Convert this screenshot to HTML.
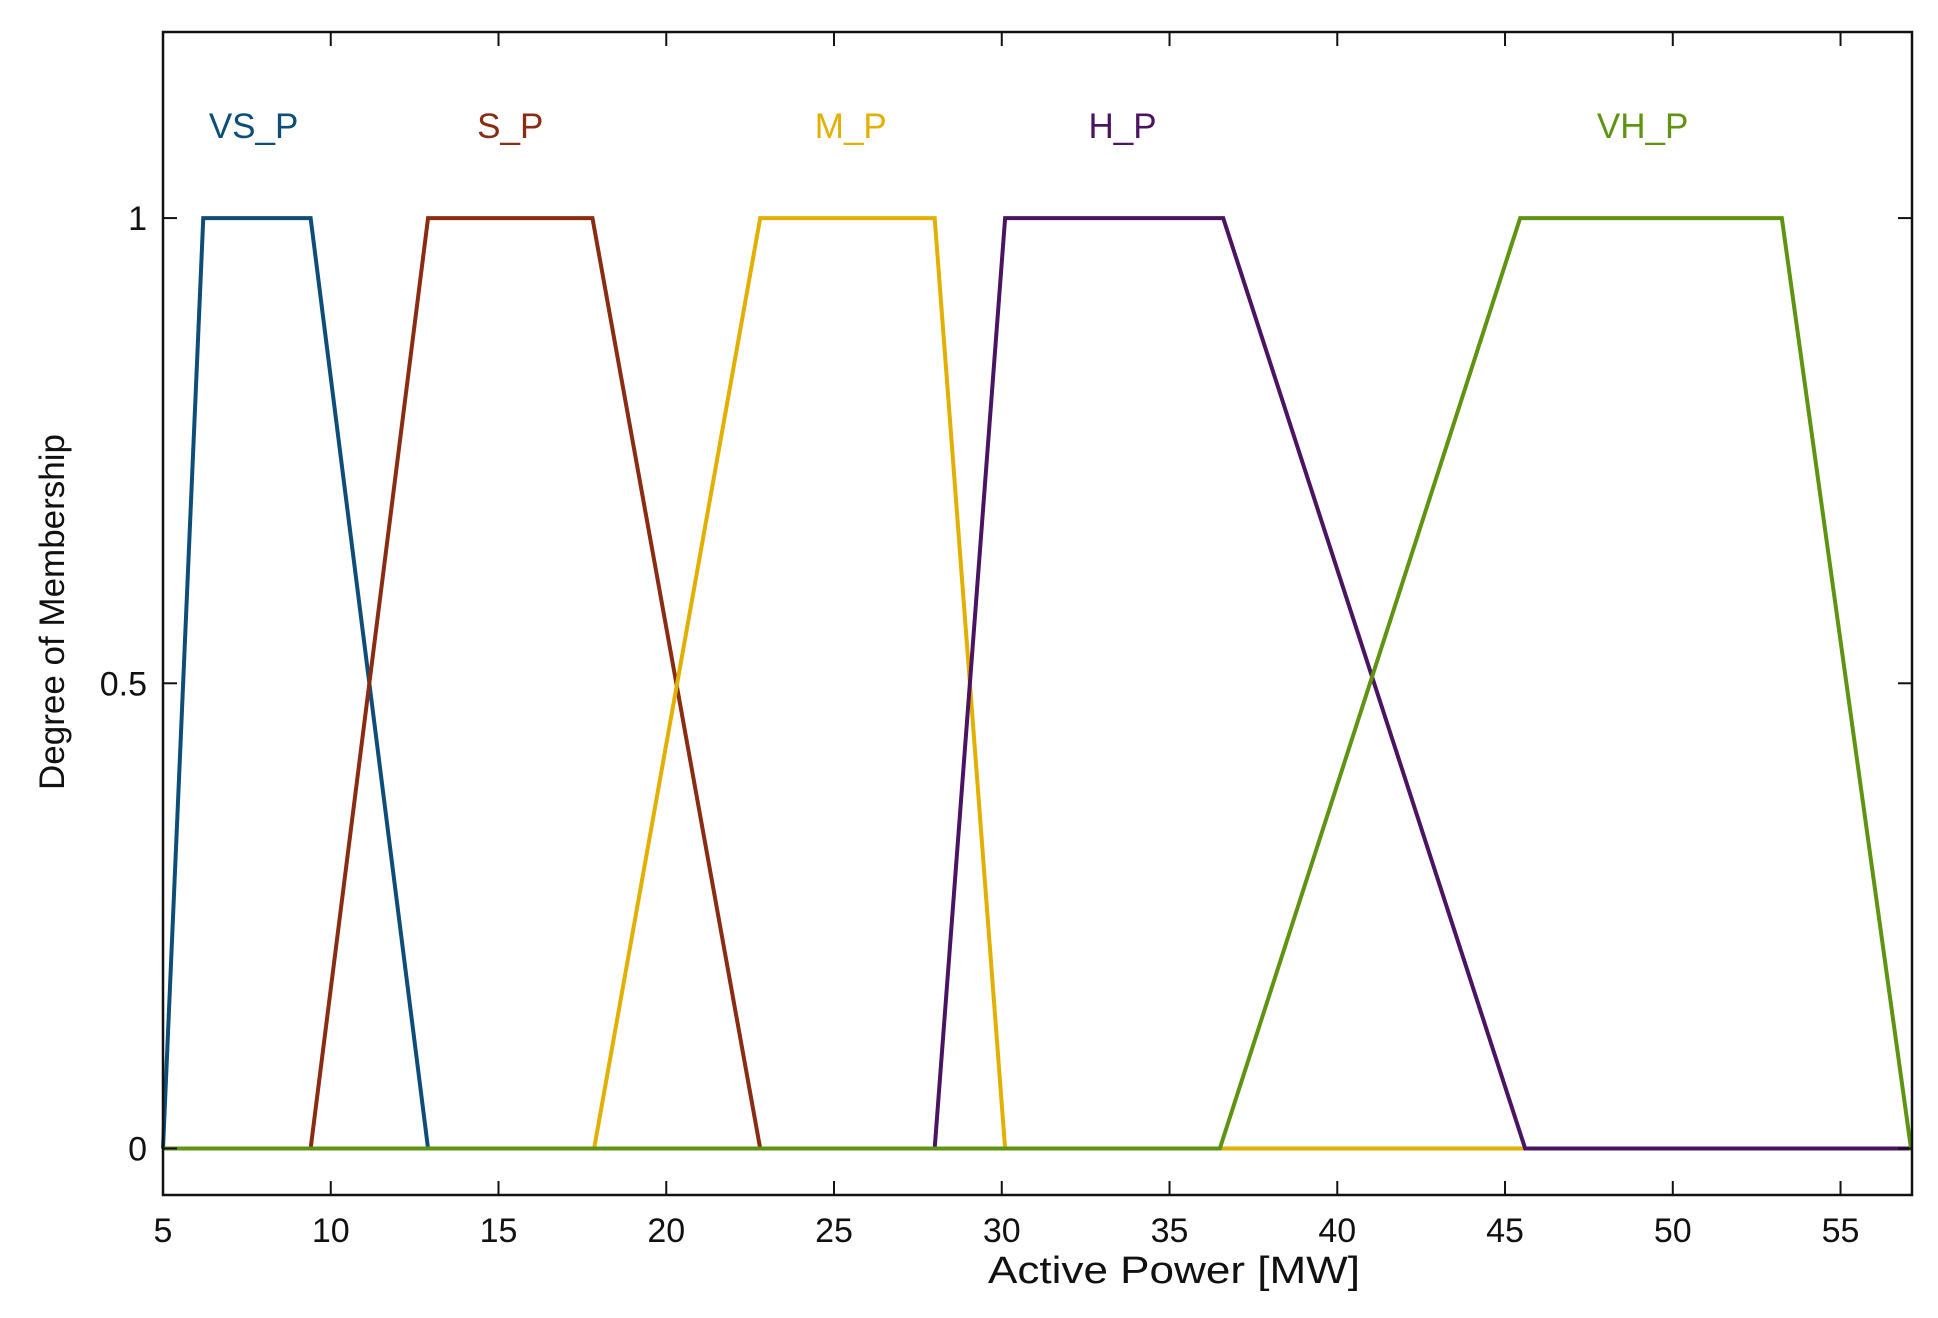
<!DOCTYPE html>
<html><head><meta charset="utf-8"><style>
html,body{margin:0;padding:0;background:#fff;}
svg{display:block;font-family:"Liberation Sans",sans-serif;}
</style></head><body>
<svg id="chart" width="1938" height="1318" viewBox="0 0 1938 1318"></svg>
<script>
const setNames = ["VS_P","S_P","M_P","H_P","VH_P"];
const vsP = [5, 6.2, 9.4, 12.9];
const sP = [9.4, 12.9, 17.8, 22.8];
const mP = [17.85, 22.8, 28.0, 30.1];
const hP = [28.0, 30.1, 36.6, 45.6];
const vhP = [36.5, 45.45, 53.25, 57.1];
const setColors = ["#0d4d78","#8a2c12","#e2b000","#4b1462","#5f9412"];
const labelX = [7.7, 15.35, 25.5, 33.6, 49.1];
const xTicks = [5,10,15,20,25,30,35,40,45,50,55];
const yTicks = [0,0.5,1];
const yTickLabels = ["0","0.5","1"];

const svg = document.getElementById('chart');
const NS = "http://www.w3.org/2000/svg";
const L=163, R=1912, T=32, B=1195;
const xMin=5, xMax=57.13, yMin=-0.05, yMax=1.2;
const xs = v => L + (v-xMin)/(xMax-xMin)*(R-L);
const ys = v => B - (v-yMin)/(yMax-yMin)*(B-T);
function mk(tag, attrs){const e=document.createElementNS(NS,tag);for(const k in attrs)e.setAttribute(k,attrs[k]);svg.appendChild(e);return e;}

const sets=[vsP,sP,mP,hP,vhP];
sets.forEach((p,i)=>{
  const pts=[[xMin,0],[p[0],0],[p[1],1],[p[2],1],[p[3],0],[xMax,0]];
  const el=mk('polyline',{points:pts.map(q=>xs(q[0])+','+ys(q[1])).join(' '),fill:'none',stroke:setColors[i],'stroke-width':4,'stroke-linejoin':'miter'});
  
  
  const t=mk('text',{x:xs(labelX[i]),y:138,'text-anchor':'middle','font-size':35,fill:setColors[i]});
  t.textContent=setNames[i];
  
  
});

const frame=mk('rect',{x:L,y:T,width:R-L,height:B-T,fill:'none',stroke:'#111','stroke-width':2.5});



xTicks.forEach(v=>{
  const x=xs(v);
  mk('line',{x1:x,y1:B,x2:x,y2:B-14,stroke:'#111','stroke-width':2});
  mk('line',{x1:x,y1:T,x2:x,y2:T+14,stroke:'#111','stroke-width':2});
  const t=mk('text',{x:x,y:1242,'text-anchor':'middle','font-size':34,fill:'#111'});
  t.textContent=v;
  
  
});
yTicks.forEach((v,i)=>{
  const y=ys(v);
  mk('line',{x1:L,y1:y,x2:L+14,y2:y,stroke:'#111','stroke-width':2});
  mk('line',{x1:R,y1:y,x2:R-14,y2:y,stroke:'#111','stroke-width':2});
  const t=mk('text',{x:147,y:y+12,'text-anchor':'end','font-size':34,fill:'#111'});
  t.textContent=yTickLabels[i];
  
  
});
const xt=mk('text',{x:1174,y:1283,'text-anchor':'middle','font-size':38,fill:'#111',textLength:372,lengthAdjust:'spacingAndGlyphs'});
xt.textContent='Active Power [MW]';


const yt=mk('text',{x:0,y:0,'text-anchor':'middle','font-size':35,fill:'#111',transform:'translate(64,612) rotate(-90)'});
yt.textContent='Degree of Membership';


</script>
</body></html>
